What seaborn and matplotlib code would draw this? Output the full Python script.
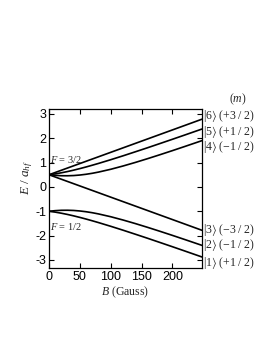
import numpy as np
import pandas as pd
import matplotlib
matplotlib.use("Agg")
import matplotlib.pyplot as plt
import seaborn as sns

# Field values (Gauss) and energies E/a_hf
B = [0, 10, 20, 30, 40, 50, 60, 70, 80, 100, 120, 140, 160, 180, 200, 220, 248]
E6 = [0.5, 0.592, 0.684, 0.776, 0.868, 0.960, 1.052, 1.144, 1.236, 1.420, 1.604, 1.788, 1.972, 2.156, 2.340, 2.524, 2.782]
E5 = [0.5, 0.535, 0.580, 0.631, 0.689, 0.752, 0.819, 0.890, 0.963, 1.117, 1.277, 1.443, 1.611, 1.783, 1.956, 2.131, 2.378]
E4 = [0.5, 0.475, 0.460, 0.458, 0.467, 0.488, 0.519, 0.559, 0.608, 0.724, 0.859, 1.006, 1.162, 1.324, 1.490, 1.660, 1.901]
E3 = [0.5, 0.408, 0.316, 0.224, 0.132, 0.040, -0.052, -0.144, -0.236, -0.420, -0.604, -0.788, -0.972, -1.156, -1.340, -1.524, -1.782]
E2 = [-1.0, -0.975, -0.960, -0.958, -0.967, -0.988, -1.019, -1.059, -1.108, -1.224, -1.359, -1.506, -1.662, -1.824, -1.990, -2.160, -2.401]
E1 = [-1.0, -1.035, -1.080, -1.131, -1.189, -1.252, -1.319, -1.390, -1.463, -1.617, -1.777, -1.943, -2.111, -2.283, -2.456, -2.631, -2.878]

state_names = ["6", "5", "4", "3", "2", "1"]
m_labels = ["(+3\u2009/\u20092)", "(+1\u2009/\u20092)", "(\u22121\u2009/\u20092)",
            "(\u22123\u2009/\u20092)", "(\u22121\u2009/\u20092)", "(+1\u2009/\u20092)"]
label_y = [2.92, 2.27, 1.65, -1.77, -2.39, -3.12]
x_ticks = [0, 50, 100, 150, 200]
y_ticks = [-3, -2, -1, 0, 1, 2, 3]

series = [E6, E5, E4, E3, E2, E1]
df = pd.concat(
    [pd.DataFrame({"B": B, "E": s, "state": n}) for s, n in zip(series, state_names)],
    ignore_index=True,
)

sns.set_style("ticks")
plt.rcParams["font.family"] = ["Liberation Sans", "DejaVu Sans"]
plt.rcParams["mathtext.fontset"] = "custom"
plt.rcParams["mathtext.rm"] = "Liberation Serif"
plt.rcParams["mathtext.it"] = "Liberation Serif:italic"
plt.rcParams["mathtext.fallback"] = "stix"
plt.rcParams["axes.unicode_minus"] = False

fig = plt.figure(figsize=(2.61, 3.38), dpi=100)
ax = fig.add_axes([49 / 261, 1 - 268 / 338, 153 / 261, 159 / 338])

sns.lineplot(data=df, x="B", y="E", hue="state", palette=["black"] * 6,
             legend=False, linewidth=1.2, ax=ax, sort=False)

ax.set_xlim(0, 248)
ax.set_ylim(-3.33, 3.2)
ax.set_xticks(x_ticks)
ax.set_yticks(y_ticks)
ax.tick_params(direction="in", top=True, right=True, length=3.5, width=0.8,
               labelsize=9, pad=2, colors="black")
for sp in ax.spines.values():
    sp.set_linewidth(0.9)
    sp.set_color("black")

serif = ["Liberation Serif", "DejaVu Serif"]
ax.set_xlabel(r"$B$ (Gauss)", fontsize=8.5, family=serif, labelpad=1)
ax.set_ylabel(r"$E\ /\ a_{hf}$", fontsize=9.5, family=serif)
ax.yaxis.set_label_coords(-0.09, 0.57)

ax.text(2, 1.12, r"$F$ = 3/2", fontsize=7.5, family=serif, va="center", ha="left")
ax.text(2, -1.64, r"$F$ = 1/2", fontsize=7.5, family=serif, va="center", ha="left")

for n, m, yv in zip(state_names, m_labels, label_y):
    ax.text(1.005, yv, r"$|%s\rangle$ %s" % (n, m), fontsize=8.5, family=serif,
            va="center", ha="left", transform=ax.get_yaxis_transform(), clip_on=False)
ax.text(1.235, 3.58, r"($m$)", fontsize=8.5, family=serif, va="center", ha="center",
        transform=ax.get_yaxis_transform(), clip_on=False)

fig.savefig("out.png", dpi=100)
